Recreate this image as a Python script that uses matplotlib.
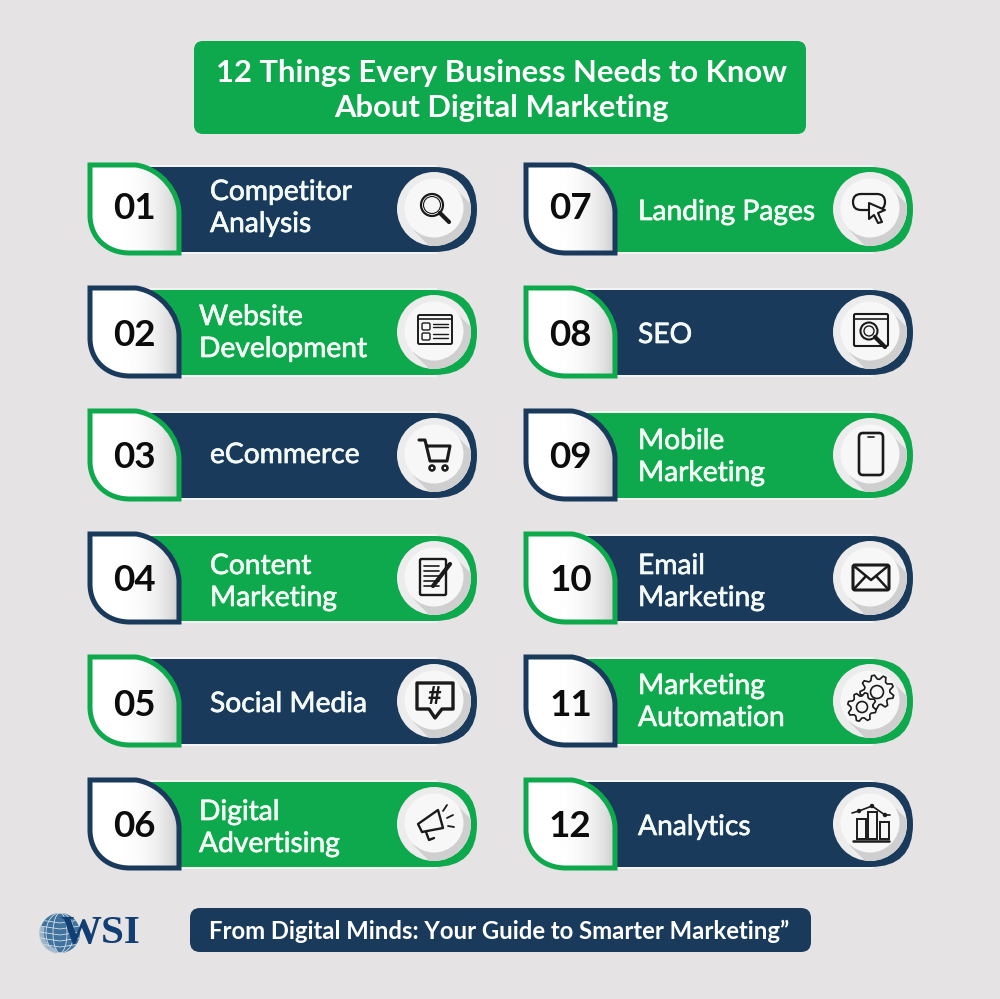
import numpy as np
import matplotlib
matplotlib.use('Agg')
import matplotlib.pyplot as plt
import matplotlib.patheffects as pe
from matplotlib.patches import Circle, Ellipse, FancyBboxPatch, PathPatch, Polygon, Rectangle, Wedge
from matplotlib.path import Path

NAVY = '#1a3a5c'
GREEN = '#0ea84d'
BG = '#e5e3e3'
INK = '#1a1a1a'

title_lines = ['12 Things Every Business Needs to Know', 'About Digital Marketing']
footer = 'From Digital Minds: Your Guide to Smarter Marketing”'
numbers = ['01', '02', '03', '04', '05', '06', '07', '08', '09', '10', '11', '12']
labels = [['Competitor', 'Analysis'], ['Website', 'Development'], ['eCommerce'],
          ['Content', 'Marketing'], ['Social Media'], ['Digital', 'Advertising'],
          ['Landing Pages'], ['SEO'], ['Mobile', 'Marketing'],
          ['Email', 'Marketing'], ['Marketing', 'Automation'], ['Analytics']]
fills = [NAVY, GREEN, NAVY, GREEN, NAVY, GREEN, GREEN, NAVY, GREEN, NAVY, GREEN, NAVY]
icons = ['search', 'web', 'cart', 'note', 'chat', 'horn',
         'click', 'seo', 'phone', 'mail', 'gears', 'bars']

# layout
row_tops = [167, 290, 413, 536, 659, 782]
number_dy = [-3.5, 0.5, -0.5, -0.5, 1.5, -0.5]
label_x = [210, 199, 210, 210, 210, 199, 638, 638, 638, 638, 638, 638]
label_dy = [-9.5, -7.5, 7.5, -4.5, 10.5, -4.5, 10.5, 10.5, -6.5, -4.5, -7.5, 10.5]

plt.rcParams['font.family'] = ['Lato', 'DejaVu Sans']

fig = plt.figure(figsize=(10, 9.99), dpi=100, facecolor=BG)
ax = fig.add_axes([0, 0, 1, 1])
ax.set_axis_off()


def line(xs, ys, lw=1.4, color=INK):
    ax.plot(xs, ys, color=color, lw=lw, solid_capstyle='round', solid_joinstyle='round', zorder=8)


def ring(x, y, r, lw=1.4, fc='none'):
    ax.add_patch(Circle((x, y), r, fc=fc, ec=INK, lw=lw, zorder=8))


def box(x, y, w, h, lw=1.4, fc='none', pad=1.5):
    ax.add_patch(FancyBboxPatch((x, y), w, h, boxstyle=f'round,pad=0,rounding_size={pad}',
                                fc=fc, ec=INK, lw=lw, zorder=8))


def gear(x, y, r, teeth=8, lw=1.2):
    ang = np.linspace(0, 2 * np.pi, teeth * 4, endpoint=False) + 0.2
    rad = np.tile([r, r, r * 0.76, r * 0.76], teeth)
    ax.add_patch(Polygon(np.c_[x + rad * np.cos(ang), y + rad * np.sin(ang)], closed=True,
                         fc='#f7f7f7', ec=INK, lw=lw, joinstyle='round', zorder=8))
    ring(x, y, r * 0.38, lw)


def draw_icon(kind, x, y):
    if kind == 'search':
        ring(x - 3, y - 3, 11, 1.6)
        ring(x - 3, y - 3, 8.5, 0.8)
        line([x + 5, x + 14], [y + 5, y + 14], 3)
    elif kind == 'web':
        box(x - 17, y - 16, 34, 29, 1.4)
        line([x - 17, x + 17], [y - 12, y - 12], 1.2)
        box(x - 13, y - 8, 8, 7, 1)
        box(x - 13, y + 2, 8, 7, 1)
        for dy in (-7, -4, 3, 7):
            line([x - 2, x + 13], [y + dy, y + dy], 1)
    elif kind == 'cart':
        line([x - 16, x - 10, x - 5, x + 12, x + 15, x - 8],
             [y - 14, y - 14, y + 7, y + 7, y - 8, y - 8], 2.2)
        ring(x - 3, y + 14, 2.5, 1.8)
        ring(x + 10, y + 14, 2.5, 1.8)
    elif kind == 'note':
        box(x - 15, y - 18, 26, 36, 1.7)
        for dy in (-11, -6, -1, 4, 9):
            line([x - 11, x + 4], [y + dy, y + dy], 1.2)
        line([x - 2, x + 15], [y + 9, y - 13], 3)
    elif kind == 'chat':
        ax.add_patch(Polygon([(x - 18, y - 17), (x + 18, y - 17), (x + 18, y + 9), (x + 7, y + 9),
                              (x, y + 18), (x - 6, y + 9), (x - 18, y + 9)], closed=True,
                             fc='none', ec=INK, lw=2.4, joinstyle='round', zorder=8))
        ax.text(x, y - 3, '#', ha='center', va='center', fontsize=17, fontweight='bold', color=INK, zorder=8)
    elif kind == 'horn':
        ax.add_patch(Polygon([(x - 17, y + 1), (x + 3, y - 13), (x + 8, y + 5), (x - 13, y + 9)], closed=True,
                             fc='none', ec=INK, lw=1.7, joinstyle='round', zorder=8))
        line([x - 9, x - 6, x - 1], [y + 9, y + 17, y + 15], 1.7)
        line([x + 8, x + 12], [y - 12, y - 18], 1.3)
        line([x + 12, x + 18], [y - 5, y - 8], 1.3)
        line([x + 13, x + 19], [y + 3, y + 4], 1.3)
    elif kind == 'click':
        ax.add_patch(FancyBboxPatch((x - 18, y - 14), 32, 16, boxstyle='round,pad=0,rounding_size=8',
                                    fc='none', ec=INK, lw=1.6, zorder=8))
        ax.add_patch(Polygon([(x - 2, y - 5), (x + 14, y + 2), (x + 7, y + 5), (x + 11, y + 14), (x + 7, y + 15),
                              (x + 3, y + 7), (x - 2, y + 11)], closed=True, fc='#f7f7f7', ec=INK, lw=1.5,
                             joinstyle='round', zorder=8))
    elif kind == 'seo':
        box(x - 17, y - 17, 34, 32, 1.5)
        line([x - 17, x + 17], [y - 12, y - 12], 1.2)
        ring(x - 2, y, 8.5, 1.5, fc='#f7f7f7')
        ring(x - 2, y, 5, 1)
        line([x + 4, x + 14], [y + 6, y + 16], 3)
    elif kind == 'phone':
        box(x - 12, y - 21, 24, 42, 1.9, pad=4)
        line([x - 3, x + 3], [y - 17, y - 17], 1.2)
    elif kind == 'mail':
        box(x - 18, y - 12, 36, 25, 2.2, pad=2)
        line([x - 17, x, x + 17], [y - 11, y + 3, y - 11], 1.8)
        line([x - 17, x - 5], [y + 12, y - 1], 1.8)
        line([x + 17, x + 5], [y + 12, y - 1], 1.8)
    elif kind == 'gears':
        gear(x + 6, y - 8, 17, 9)
        gear(x - 9, y + 7, 14.5, 8)
    elif kind == 'bars':
        for dx, top in ((-14, -4), (-3, -11), (9, -1)):
            ax.add_patch(Rectangle((x + dx, y + top), 9, 16 - top, fc='none', ec=INK, lw=1.4, zorder=8))
        line([x - 18, x + 18], [y + 18, y + 18], 1.8)
        line([x - 19, x - 12, x + 1, x + 14, x + 19], [y - 10, y - 12, y - 17, y - 8, y - 8], 1.2)
        for dx, dy in ((-12, -12), (1, -17), (14, -8)):
            ring(x + dx, y + dy, 1.5, 1, fc=INK)


def leaf_path(x0, y0, x1, y1):
    # square top-left and bottom-right, long rounded on the other two
    verts = [(x0, y0), (x0 + 46, y0), (x0 + 72, y0 + 4), (x1, y0 + 28), (x1, y0 + 48), (x1, y1),
             (x0 + 40, y1), (x0 + 16, y1), (x0, y1 - 16), (x0, y1 - 38), (x0, y0), (x0, y0)]
    codes = [Path.MOVETO, Path.LINETO, Path.CURVE4, Path.CURVE4, Path.CURVE4, Path.LINETO,
             Path.LINETO, Path.CURVE4, Path.CURVE4, Path.CURVE4, Path.LINETO, Path.CLOSEPOLY]
    return Path(verts, codes)


def draw_card(i, x_off, top, row):
    fill = fills[i]
    other = GREEN if fill == NAVY else NAVY
    left, right, h = x_off + 140, x_off + 477, 85
    mid = top + h / 2
    # white glow along the straight edges, then the pill with a square left end
    ax.add_patch(Rectangle((left, top - 2), right - left - 40, h + 4, fc='#f3f3f3', ec='none', zorder=1))
    ax.add_patch(FancyBboxPatch((left, top), right - left, h,
                                boxstyle=f'round,pad=0,rounding_size={h / 2}', fc=fill, ec='none', zorder=2))
    ax.add_patch(Rectangle((left, top), 60, h, fc=fill, ec='none', zorder=2))
    # icon disc with a long shadow falling to the lower right
    cx, cy = x_off + 434, mid - 0.5
    disc = Circle((cx, cy), 37, fc='#ececec', ec='none', zorder=3)
    ax.add_patch(disc)
    r = 29.5
    k = r / np.sqrt(2)
    shade = Polygon([(cx + k, cy - k), (cx + k + 40, cy - k + 40), (cx - k + 40, cy + k + 40), (cx - k, cy + k)],
                    closed=True, fc='#cfcfcf', ec='none', zorder=4)
    ax.add_patch(shade)
    shade.set_clip_path(disc)
    ax.add_patch(Circle((cx, cy - 1), r, fc='#f7f7f7', ec='none', zorder=5))
    draw_icon(icons[i], cx + 1, cy - 1)
    # number leaf, white fading to grey on its right edge
    path = leaf_path(x_off + 90, top - 2, x_off + 179, top + h + 1)
    grad = np.linspace(0, 1, 64) ** 4
    shades = (1 - 0.2 * grad).reshape(1, -1)
    im = ax.imshow(shades, extent=(x_off + 90, x_off + 179, top + h + 1, top - 2), cmap='gray',
                   vmin=0, vmax=1, aspect='auto', zorder=6)
    outline = PathPatch(path, fc='none', ec=other, lw=3.6, joinstyle='miter', zorder=7)
    ax.add_patch(outline)
    im.set_clip_path(outline)
    num_x = x_off + 135 if numbers[i] in ('10', '11') else x_off + 134
    ax.text(num_x, mid + number_dy[row] + 13, numbers[i], ha='center', va='baseline',
            fontsize=26.5, fontweight='bold', color='#0c0c0c', zorder=9)
    # label, thickened a little since the picture uses a medium cut
    y = mid + label_dy[i]
    for text in labels[i]:
        ax.text(label_x[i], y, text, ha='left', va='baseline', fontsize=20.3, color='#f4fbf6', zorder=9,
                path_effects=[pe.withStroke(linewidth=0.5, foreground='#f4fbf6')])
        y += 32


# title and footer bars
ax.add_patch(FancyBboxPatch((194, 41), 612, 93, boxstyle='round,pad=0,rounding_size=9', fc=GREEN, ec='none'))
for text, y in zip(title_lines, [73, 108]):
    ax.text(501, y, text, ha='center', va='center', fontsize=22.3, fontweight='bold', color='white')

for row, top in enumerate(row_tops):
    draw_card(row, 0, top, row)
    draw_card(row + 6, 436, top, row)

ax.add_patch(FancyBboxPatch((190, 908), 621, 44, boxstyle='round,pad=0,rounding_size=10', fc=NAVY, ec='none'))
ax.text(209, 931, footer, ha='left', va='center', fontsize=17.2, fontweight='bold', color='white')

# WSI logo
globe = Circle((60, 933), 20, fc='#3f729c', ec='none')
ax.add_patch(globe)
for off in (-13, -7, -1, 5, 11):
    lat = ax.plot([40, 60, 80], [933 + off, 933 + off + 3, 933 + off], color='#d5e0ea', lw=0.6)[0]
    lat.set_clip_path(globe)
for width in (14, 28):
    lon = Ellipse((60, 933), width, 40, fc='none', ec='#d5e0ea', lw=0.6)
    ax.add_patch(lon)
    lon.set_clip_path(globe)
ax.add_patch(Wedge((60, 933), 21, 100, 200, width=5, fc='#b4c5d4', ec='none', alpha=0.8))
ax.text(100, 933, 'WSI', ha='center', va='center', fontsize=29.5, fontweight='bold',
        family='Liberation Serif', color='#123f73')

ax.set_xlim(0, 1000)
ax.set_ylim(999, 0)
fig.savefig('out.png', dpi=100, facecolor=BG)
